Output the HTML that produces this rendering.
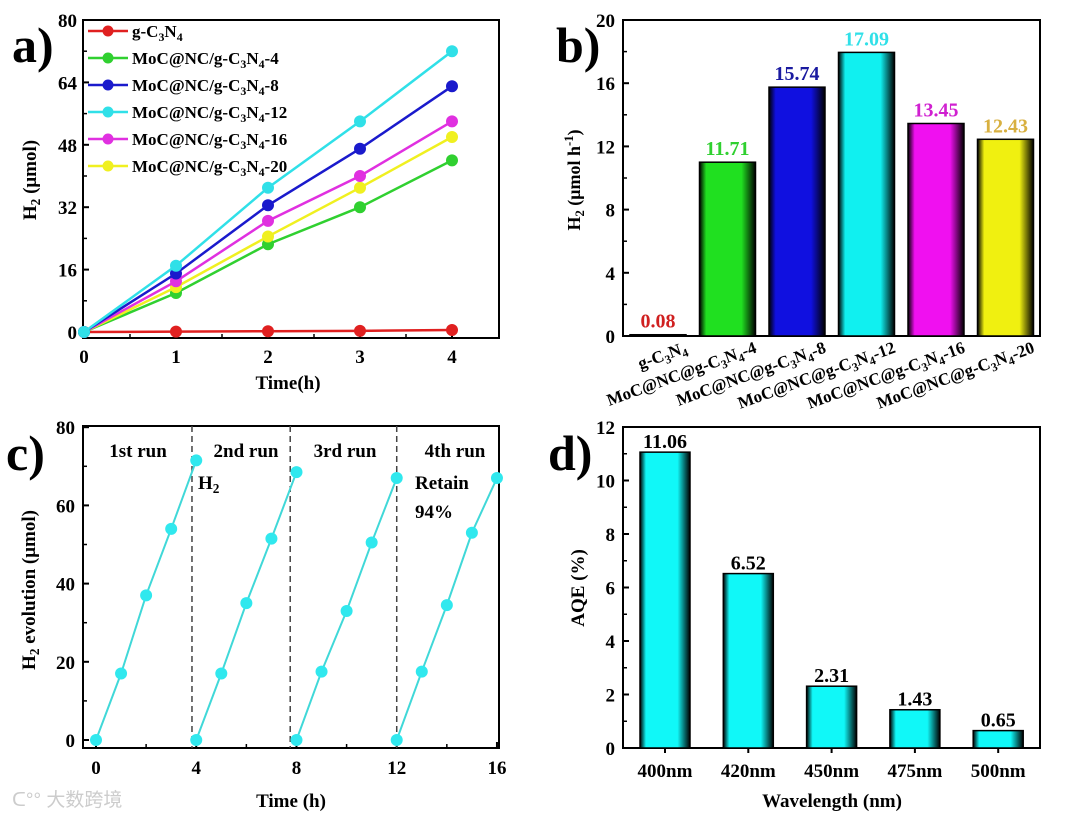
<!DOCTYPE html>
<html><head><meta charset="utf-8">
<style>
html,body{margin:0;padding:0;background:#fff;}
svg{display:block;font-family:"Liberation Serif",serif;font-weight:bold;}
</style></head>
<body>
<svg id="s" width="1080" height="819" viewBox="0 0 1080 819" xmlns="http://www.w3.org/2000/svg">
<defs id="defs"></defs>
</svg>
<script>
// ---- Panel a data
const aTimes=[0,1,2,3,4];
const aNames=["g-C3N4","MoC@NC/g-C3N4-4","MoC@NC/g-C3N4-8","MoC@NC/g-C3N4-12","MoC@NC/g-C3N4-16","MoC@NC/g-C3N4-20"];
const aRed=[0,0.1,0.2,0.3,0.5];
const aGreen=[0,10,22.5,32,44];
const aBlue=[0,15,32.5,47,63];
const aCyan=[0,17,37,54,72];
const aMagenta=[0,13,28.5,40,54];
const aYellow=[0,11.5,24.5,37,50];
const aYTicks=[0,16,32,48,64,80];
const aXTicks=[0,1,2,3,4];
// ---- Panel b data
const bCats=["g-C3N4","MoC@NC@g-C3N4-4","MoC@NC@g-C3N4-8","MoC@NC@g-C3N4-12","MoC@NC@g-C3N4-16","MoC@NC@g-C3N4-20"];
const bHeights=[0.08,11.0,15.75,17.95,13.45,12.45];
const bLabels=["0.08","11.71","15.74","17.09","13.45","12.43"];
const bYTicks=[0,4,8,12,16,20];
// ---- Panel c data
const cRunStarts=[0,4,8,12];
const cRun1=[0,17,37,54,71.5];
const cRun2=[0,17,35,51.5,68.5];
const cRun3=[0,17.5,33,50.5,67];
const cRun4=[0,17.5,34.5,53,67];
const cDividers=[3.83,7.75,12];
const cYTicks=[0,20,40,60,80];
const cXTicks=[0,4,8,12,16];
// ---- Panel d data
const dCats=["400nm","420nm","450nm","475nm","500nm"];
const dValues=[11.06,6.52,2.31,1.43,0.65];
const dYTicks=[0,2,4,6,8,10,12];

const NS="http://www.w3.org/2000/svg";
const svg=document.getElementById('s');
const defs=document.getElementById('defs');
function mk(tag,attrs,parent){const e=document.createElementNS(NS,tag);for(const k in attrs)e.setAttribute(k,attrs[k]);(parent||svg).appendChild(e);return e;}
function grad(id,c){const g=mk('linearGradient',{id:id,x1:0,x2:1,y1:0,y2:0},defs);
 [[0,'#000'],[0.12,c],[0.45,c],[0.75,c],[1,'#000']].forEach(s=>mk('stop',{offset:s[0],'stop-color':s[1]},g));}
function sub(t){
 return t.replace(/C3N4/g,'C<tspan baseline-shift="-30%" font-size="70%">3</tspan>N<tspan baseline-shift="-30%" font-size="70%">4</tspan>');}
function frame(g,L,R,T,B){mk('rect',{x:L,y:T,width:R-L,height:B-T,fill:'none',stroke:'#000','stroke-width':2},g);}
const TF=19;

// ================= Panel a
(function(){
 const g=mk('g',{});
 
 
 const L=83,R=499,T=20,B=338;
 const X=v=>84+v*92, Y=v=>332-v*3.9;
 frame(g,L,R,T,B);
 aYTicks.forEach(t=>{mk('line',{x1:L,x2:L+6,y1:Y(t),y2:Y(t),stroke:'#000','stroke-width':2},g);
  const tx=mk('text',{x:L-6,y:Y(t)+7,'text-anchor':'end','font-size':TF},g);tx.textContent=t;
  });
 for(let k=1;k<aYTicks.length;k++){const m=(aYTicks[k]+aYTicks[k-1])/2;mk('line',{x1:L,x2:L+4,y1:Y(m),y2:Y(m),stroke:'#000','stroke-width':1.5},g);}
 aXTicks.forEach(t=>{mk('line',{x1:X(t),x2:X(t),y1:B,y2:B-6,stroke:'#000','stroke-width':2},g);
  if(t<4)mk('line',{x1:X(t+0.5),x2:X(t+0.5),y1:B,y2:B-4,stroke:'#000','stroke-width':1.5},g);
  const tx=mk('text',{x:X(t),y:B+25,'text-anchor':'middle','font-size':TF},g);tx.textContent=t;
  });
 const xt=mk('text',{x:288,y:389,'text-anchor':'middle','font-size':19},g);xt.textContent='Time(h)';
 
 const yt=mk('text',{transform:'translate(36,180) rotate(-90)','text-anchor':'middle','font-size':19},g);
 yt.innerHTML='H<tspan baseline-shift="-30%" font-size="70%">2</tspan> (μmol)';
 
 const lab=mk('text',{x:12,y:62,'font-size':50},g);lab.textContent='a)';
 
 const series=[[aRed,'#e02020'],[aGreen,'#30d030'],[aBlue,'#1a1acc'],[aCyan,'#30e0e8'],[aMagenta,'#e030e0'],[aYellow,'#f0f020']];
 const order=[0,1,5,4,2,3];
 order.forEach(i=>{const [d,c]=series[i];
  const pl=mk('polyline',{points:d.map((v,j)=>X(aTimes[j])+','+Y(v)).join(' '),fill:'none',stroke:c,'stroke-width':2.5},g);
  
  d.forEach((v,j)=>{const p=mk('circle',{cx:X(aTimes[j]),cy:Y(v),r:5.5,fill:c,stroke:c},g);
   });});
 series.forEach(([d,c],i)=>{const y=31+i*27;
  const le=mk('g',{},g);
  mk('line',{x1:88,x2:128,y1:y,y2:y,stroke:c,'stroke-width':2.5},le);
  mk('circle',{cx:108,cy:y,r:5.5,fill:c},le);
  const t=mk('text',{x:132,y:y+6,'font-size':17},le);t.innerHTML=sub(aNames[i]);});
})();

// ================= Panel b
(function(){
 const g=mk('g',{});
 
 
 const L=623,R=1040,T=20,B=336;
 const Y=v=>B-v*15.8;
 const cols=['#e02020','#20e020','#1010e0','#10f0f0','#f010f0','#f0f010'];
 const lcols=['#d02020','#30d030','#1a1aa0','#30e0e8','#d020d0','#d8b040'];
 cols.forEach((c,i)=>grad('gb'+i,c));
 frame(g,L,R,T,B);
 bYTicks.forEach(t=>{mk('line',{x1:L,x2:L+6,y1:Y(t),y2:Y(t),stroke:'#000','stroke-width':2},g);
  const tx=mk('text',{x:L-8,y:Y(t)+7,'text-anchor':'end','font-size':TF},g);tx.textContent=t;
  });
 for(let k=1;k<bYTicks.length;k++){const m=(bYTicks[k]+bYTicks[k-1])/2;mk('line',{x1:L,x2:L+4,y1:Y(m),y2:Y(m),stroke:'#000','stroke-width':1.5},g);}
 bHeights.forEach((v,i)=>{const cx=658+i*69.5,w=56;
  const r=mk('rect',{x:cx-w/2,y:Y(v),width:w,height:B-Y(v),fill:'url(#gb'+i+')',stroke:'#000','stroke-width':1.5},g);
  
  const t=mk('text',{x:cx,y:Y(v)-7,'text-anchor':'middle','font-size':20,fill:lcols[i]},g);t.textContent=bLabels[i];
  
  const c=mk('text',{transform:'translate('+(cx+30)+','+(B+16)+') rotate(-20)','text-anchor':'end','font-size':17},g);
  c.innerHTML=sub(bCats[i]);});
 const yt=mk('text',{transform:'translate(580,180) rotate(-90)','text-anchor':'middle','font-size':18},g);
 yt.innerHTML='H<tspan baseline-shift="-30%" font-size="70%">2</tspan> (μmol h<tspan baseline-shift="super" font-size="70%">-1</tspan>)';
 
 const lab=mk('text',{x:556,y:62,'font-size':50},g);lab.textContent='b)';
 
})();

// ================= Panel c
(function(){
 const g=mk('g',{});
 
 
 const L=83,R=499,T=426,B=748;
 const X=v=>96+v*25.06, Y=v=>740-v*3.91;
 frame(g,L,R,T,B);
 cYTicks.forEach(t=>{mk('line',{x1:L,x2:L+6,y1:Y(t),y2:Y(t),stroke:'#000','stroke-width':2},g);
  const tx=mk('text',{x:L-8,y:Y(t)+7,'text-anchor':'end','font-size':TF},g);tx.textContent=t;
  });
 for(let k=1;k<cYTicks.length;k++){const m=(cYTicks[k]+cYTicks[k-1])/2;mk('line',{x1:L,x2:L+4,y1:Y(m),y2:Y(m),stroke:'#000','stroke-width':1.5},g);}
 cXTicks.forEach(t=>{mk('line',{x1:X(t),x2:X(t),y1:B,y2:B-6,stroke:'#000','stroke-width':2},g);
  if(t<16)mk('line',{x1:X(t+2),x2:X(t+2),y1:B,y2:B-4,stroke:'#000','stroke-width':1.5},g);
  const tx=mk('text',{x:X(t),y:B+26,'text-anchor':'middle','font-size':TF},g);tx.textContent=t;
  });
 cDividers.forEach(d=>{const l=mk('line',{x1:X(d),x2:X(d),y1:T,y2:B,stroke:'#444','stroke-width':1.5,'stroke-dasharray':'6,4'},g);
  });
 [cRun1,cRun2,cRun3,cRun4].forEach((run,r)=>{const s=cRunStarts[r];
  const pl=mk('polyline',{points:run.map((v,j)=>X(s+j)+','+Y(v)).join(' '),fill:'none',stroke:'#40d8d8','stroke-width':2},g);
  
  run.forEach((v,j)=>{const p=mk('circle',{cx:X(s+j),cy:Y(v),r:6,fill:'#30e8ee'},g);
   });});
 [['1st run',138],['2nd run',246],['3rd run',345],['4th run',455]].forEach(([t,x])=>{
  const e=mk('text',{x:x,y:457,'text-anchor':'middle','font-size':19},g);e.textContent=t;
  });
 const h=mk('text',{x:198,y:489,'font-size':19},g);h.innerHTML='H<tspan baseline-shift="-30%" font-size="70%">2</tspan>';
 
 const r1=mk('text',{x:415,y:489,'font-size':19},g);r1.textContent='Retain';
 
 const r2=mk('text',{x:415,y:518,'font-size':19},g);r2.textContent='94%';
 
 const xt=mk('text',{x:291,y:807,'text-anchor':'middle','font-size':19},g);xt.textContent='Time (h)';
 
 const yt=mk('text',{transform:'translate(35,590) rotate(-90)','text-anchor':'middle','font-size':19},g);
 yt.innerHTML='H<tspan baseline-shift="-30%" font-size="70%">2</tspan> evolution (μmol)';
 
 const lab=mk('text',{x:6,y:470,'font-size':50},g);lab.textContent='c)';
 
 const wm=mk('text',{x:12,y:806,'font-size':19,fill:'#ccc','font-family':'"Liberation Sans","Noto Sans CJK SC",sans-serif','font-weight':'normal'},g);
 wm.textContent='ᑕ°° 大数跨境';
})();

// ================= Panel d
(function(){
 const g=mk('g',{});
 
 
 const L=623,R=1040,T=427,B=748;
 const Y=v=>B-v*26.75;
 grad('gd','#10f8f8');
 frame(g,L,R,T,B);
 dYTicks.forEach(t=>{mk('line',{x1:L,x2:L+6,y1:Y(t),y2:Y(t),stroke:'#000','stroke-width':2},g);
  const tx=mk('text',{x:L-8,y:Y(t)+7,'text-anchor':'end','font-size':TF},g);tx.textContent=t;
  });
 for(let k=1;k<dYTicks.length;k++){const m=(dYTicks[k]+dYTicks[k-1])/2;mk('line',{x1:L,x2:L+4,y1:Y(m),y2:Y(m),stroke:'#000','stroke-width':1.5},g);}
 dValues.forEach((v,i)=>{const cx=665+i*83.3,w=50;
  const r=mk('rect',{x:cx-w/2,y:Y(v),width:w,height:B-Y(v),fill:'url(#gd)',stroke:'#000','stroke-width':1.5},g);
  
  const t=mk('text',{x:cx,y:Y(v)-4,'text-anchor':'middle','font-size':20},g);t.textContent=v.toFixed(2);
  
  mk('line',{x1:cx,x2:cx,y1:B,y2:B+5,stroke:'#000','stroke-width':2},g);
  const c=mk('text',{x:cx,y:B+29,'text-anchor':'middle','font-size':TF},g);c.textContent=dCats[i];
  });
 const xt=mk('text',{x:832,y:807,'text-anchor':'middle','font-size':19},g);xt.textContent='Wavelength (nm)';
 
 const yt=mk('text',{transform:'translate(584,588) rotate(-90)','text-anchor':'middle','font-size':19},g);yt.textContent='AQE (%)';
 
 const lab=mk('text',{x:548,y:470,'font-size':50},g);lab.textContent='d)';
 
})();
</script>
</body></html>
